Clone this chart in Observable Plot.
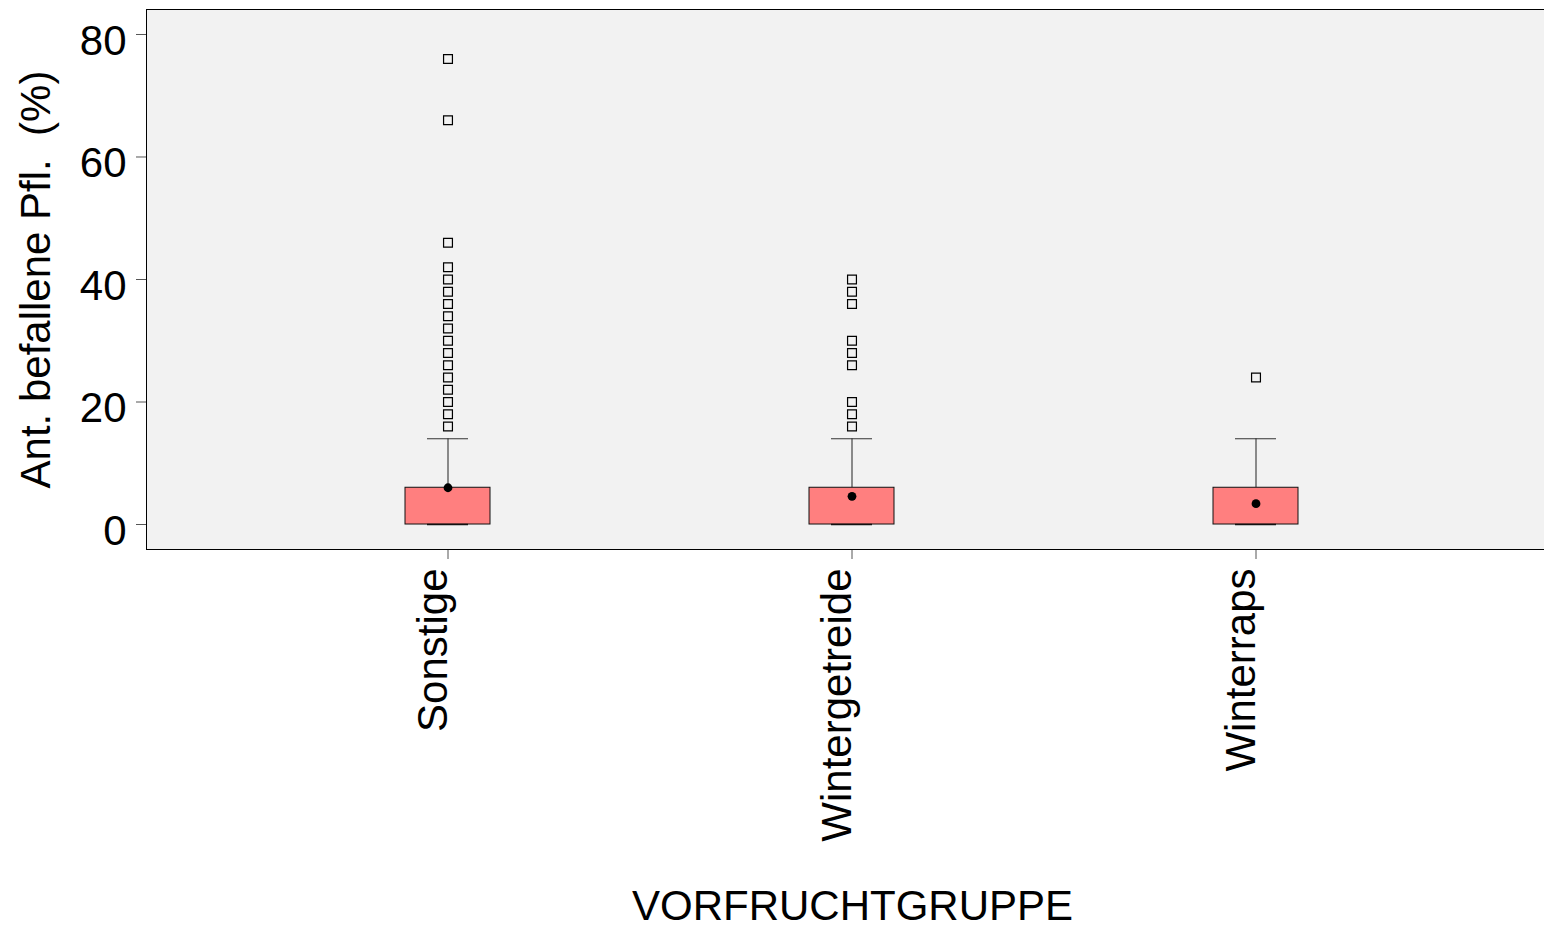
<!DOCTYPE html>
<html>
<head>
<meta charset="utf-8">
<script src="https://cdn.jsdelivr.net/npm/d3@7"></script>
<script src="https://cdn.jsdelivr.net/npm/@observablehq/plot@0.6"></script>
<style>
  html, body { margin: 0; padding: 0; background: #ffffff; overflow: hidden; }
  svg text { white-space: pre; }
</style>
</head>
<body>
<div id="chart"></div>
<script>
// Categories
const categories = ["Sonstige", "Wintergetreide", "Winterraps"];
// Box statistics
const lowerWhisker = [0, 0, 0];
const q1 = [0, 0, 0];
const median = [0, 0, 0];
const q3 = [6, 6, 6];
const upperWhisker = [14, 14, 14];
const means = [6.0, 4.6, 3.4];
// Outliers per category
const outliersSonstige = [16, 18, 20, 22, 24, 26, 28, 30, 32, 34, 36, 38, 40, 42, 46, 66, 76];
const outliersWintergetreide = [16, 18, 20, 26, 28, 30, 36, 38, 40];
const outliersWinterraps = [24];
const yTicks = [0, 20, 40, 60, 80];
const yLabel = "Ant. befallene Pfl.  (%)";
const xLabel = "VORFRUCHTGRUPPE";

const boxes = categories.map((c, i) => ({
  cat: c, lo: lowerWhisker[i], q1: q1[i], med: median[i], q3: q3[i], hi: upperWhisker[i], mean: means[i]
}));
const outlierLists = [outliersSonstige, outliersWintergetreide, outliersWinterraps];
const outliers = categories.flatMap((c, i) => outlierLists[i].map(v => ({cat: c, v})));

const font = "'Liberation Sans', Arial, sans-serif";
const fs = 42;

const chart = Plot.plot({
  width: 1560,
  height: 927,
  marginLeft: 146,
  marginRight: 2,
  marginTop: 9,
  marginBottom: 378,
  style: "max-width:none; background:#ffffff; font-family:" + font + ";",
  x: {type: "band", domain: categories, range: [405.3, 1298.7], paddingInner: 0.789, paddingOuter: 0, axis: null},
  y: {domain: [-4.08, 84.08], axis: null},
  marks: [
    Plot.frame({fill: "#f2f2f2", stroke: null}),
    // whiskers
    Plot.ruleX(boxes, {x: "cat", y1: "q3", y2: "hi", stroke: "#222", strokeWidth: 1}),
    Plot.tickY(boxes, {x: "cat", y: "hi", stroke: "#333", strokeWidth: 1, insetLeft: 22, insetRight: 22}),
    // boxes
    Plot.barY(boxes, {x: "cat", y1: "q1", y2: "q3", fill: "#ff7f7f", stroke: "#111", strokeWidth: 1}),
    Plot.tickY(boxes, {x: "cat", y: "med", stroke: "#111", strokeWidth: 1.5, insetLeft: 22, insetRight: 22}),
    Plot.tickY(boxes, {x: "cat", y: "lo", stroke: "#111", strokeWidth: 1, insetLeft: 22, insetRight: 22}),
    // means
    Plot.dot(boxes, {x: "cat", y: "mean", r: 4.4, fill: "#000", stroke: null}),
    // outliers
    Plot.dot(outliers, {x: "cat", y: "v", symbol: "square", r: 5, fill: "none", stroke: "#000", strokeWidth: 1.2}),
    // y axis ticks
    Plot.axisY({ticks: yTicks, tickSize: 10, tickFormat: () => "", stroke: "#555", label: null}),
    // y axis labels
    Plot.axisY({ticks: yTicks, tickSize: 0, tickPadding: 20, fontSize: fs, dy: 7, fill: "#000", label: null, fontFamily: font}),
    // x ticks
    Plot.axisX({tickSize: 10, tickFormat: () => "", stroke: "#555", label: null}),
    // x tick labels
    Plot.text(categories, {x: d => d, frameAnchor: "bottom", rotate: -90, textAnchor: "end", lineAnchor: "bottom", dy: 19, dx: -1, fontSize: fs, fill: "#000", fontFamily: font}),
    // axis titles
    Plot.text([yLabel], {frameAnchor: "left", rotate: -90, textAnchor: "middle", lineAnchor: "bottom", dx: -97, fontSize: fs, fill: "#000", fontFamily: font}),
    Plot.text([xLabel], {frameAnchor: "bottom", textAnchor: "middle", lineAnchor: "bottom", dy: 370, fontSize: fs, fill: "#000", fontFamily: font}),
    Plot.frame({stroke: "#000", strokeWidth: 1})
  ]
});
document.getElementById("chart").appendChild(chart);
</script>
</body>
</html>
